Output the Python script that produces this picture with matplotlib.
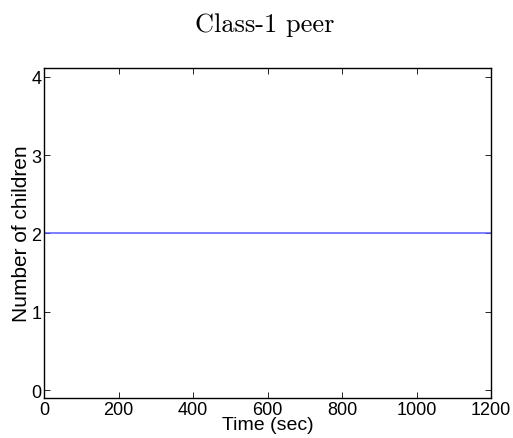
import matplotlib
matplotlib.use("Agg")
import matplotlib.pyplot as plt

# single class-1 peer: number of children stays constant over the run
time_sec = [0, 1200]
children = [2, 2]
x_ticks = [0, 200, 400, 600, 800, 1000, 1200]
y_ticks = [0, 1, 2, 3, 4]

plt.rcParams["font.family"] = ["Liberation Sans", "DejaVu Sans"]

fig = plt.figure(figsize=(5.13, 4.39), dpi=100)
ax = fig.add_axes([44 / 513, 40 / 439, 447 / 513, 330 / 439])

ax.plot(time_sec, children, color="#5a5aff", lw=1.1)
ax.set_xlim(0, 1200)
ax.set_ylim(-0.1, 4.11)
ax.set_xticks(x_ticks)
ax.set_yticks(y_ticks)
ax.tick_params(direction="in", length=4, width=0.6, top=True, right=True,
               labelsize=13, pad=2)
ax.tick_params(axis="x", pad=2)
for s in ax.spines.values():
    s.set_linewidth(1.0)

ax.set_xlabel("Time (sec)", fontsize=14, labelpad=-1)
ax.set_ylabel("Number of children", fontsize=15, labelpad=0)
fig.text(0.515, 0.943, "Class-1 peer", family="cmr10", fontsize=19,
         ha="center", va="center")

fig.savefig("out.png", dpi=100)
